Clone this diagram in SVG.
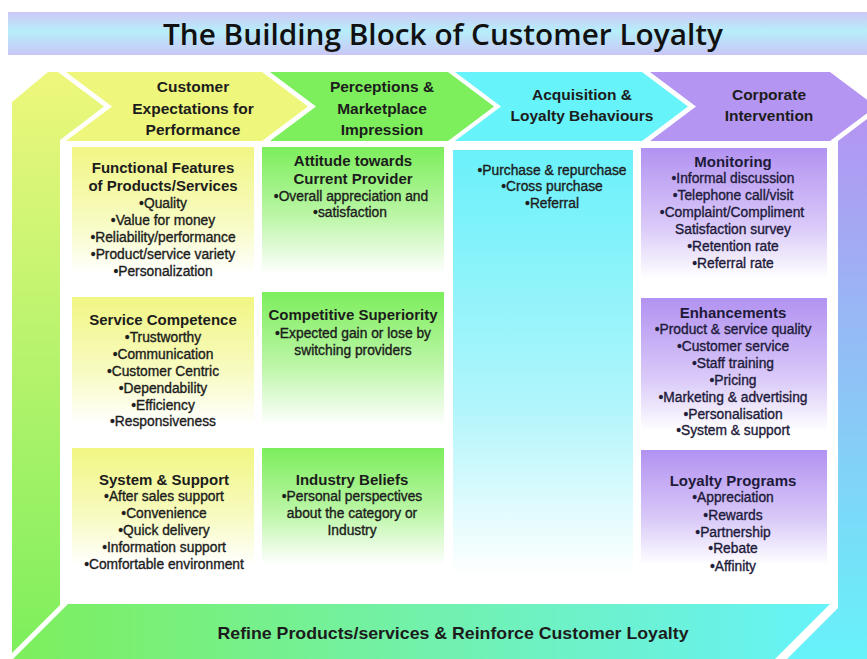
<svg xmlns="http://www.w3.org/2000/svg" width="867" height="659" viewBox="0 0 867 659">
<defs>
<linearGradient id="gTitle" x1="0" y1="0" x2="0" y2="1">
<stop offset="0" stop-color="#cdc8f6"/><stop offset="0.45" stop-color="#b6eefa"/><stop offset="1" stop-color="#cac6f6"/>
</linearGradient>
<linearGradient id="gLeft" x1="0" y1="0" x2="0" y2="1">
<stop offset="0" stop-color="#eef77c"/><stop offset="1" stop-color="#7def5c"/>
</linearGradient>
<linearGradient id="gRight" x1="0" y1="0" x2="0" y2="1">
<stop offset="0" stop-color="#b495f2"/><stop offset="1" stop-color="#66f3fa"/>
</linearGradient>
<linearGradient id="gBottom" x1="0" y1="0" x2="1" y2="0">
<stop offset="0" stop-color="#7def5c"/><stop offset="1" stop-color="#66f3fa"/>
</linearGradient>
<linearGradient id="gY" x1="0" y1="0" x2="0" y2="1">
<stop offset="0" stop-color="#f1f684"/><stop offset="0.55" stop-color="#f8fbc4"/><stop offset="0.9" stop-color="#ffffff"/>
</linearGradient>
<linearGradient id="gG" x1="0" y1="0" x2="0" y2="1">
<stop offset="0" stop-color="#7cee5c"/><stop offset="0.5" stop-color="#bdf6a8"/><stop offset="0.9" stop-color="#ffffff"/>
</linearGradient>
<linearGradient id="gC" x1="0" y1="0" x2="0" y2="1">
<stop offset="0" stop-color="#6af1fa"/><stop offset="0.6" stop-color="#b0f5fb"/><stop offset="1" stop-color="#ffffff"/>
</linearGradient>
<linearGradient id="gP" x1="0" y1="0" x2="0" y2="1">
<stop offset="0" stop-color="#b292f1"/><stop offset="0.55" stop-color="#d9c9f8"/><stop offset="0.92" stop-color="#ffffff"/>
</linearGradient>
<style>
.hd{font-family:"Liberation Sans",Arial,sans-serif;font-weight:bold;font-size:15.5px;fill:#1c1c1c;text-anchor:middle}
.bt{font-family:"Liberation Sans",Arial,sans-serif;font-weight:bold;font-size:15px;fill:#1c1c1c;text-anchor:middle}
.it{font-family:"Liberation Sans",Arial,sans-serif;font-size:13.8px;fill:#1c1c1c;stroke:#1c1c1c;stroke-width:0.35;text-anchor:middle}
.pt{fill:#1e1a3a}
.ps{fill:#1e1a3a;stroke:#1e1a3a}
</style>
</defs>
<rect width="867" height="659" fill="#ffffff"/>

<g id="title">
<rect x="8" y="12" width="859" height="43" fill="url(#gTitle)"/>
<text x="443" y="45" font-family="'Open Sans','Liberation Sans',Arial,sans-serif" font-weight="600" font-size="29" fill="#111" text-anchor="middle" textLength="560" lengthAdjust="spacingAndGlyphs">The Building Block of Customer Loyalty</text>
</g>

<g id="connectors">
<polygon id="flow-left" points="12,102 48,72 58,72 104,106.5 60,140 60,605 12,653" fill="url(#gLeft)"/>
<polygon id="flow-right" points="838,141 867,119 867,659 787,659 838,608" fill="url(#gRight)"/>
</g>

<g id="stage-expectations">
<polygon points="66,72 262,72 308,106.5 262,141 66,141 112,106.5" fill="#eef77c"/>
<text class="hd"><tspan x="193" y="92">Customer</tspan><tspan x="193" y="114">Expectations for</tspan><tspan x="193" y="135">Performance</tspan></text>
</g>
<g id="stage-perceptions">
<polygon points="270,72 448,72 494,106.5 448,141 270,141 316,106.5" fill="#7def5c"/>
<text class="hd"><tspan x="382" y="92">Perceptions &amp;</tspan><tspan x="382" y="114">Marketplace</tspan><tspan x="382" y="135">Impression</tspan></text>
</g>
<g id="stage-acquisition">
<polygon points="455,72 642,72 688,106.5 642,141 455,141 501,106.5" fill="#66f3fa"/>
<text class="hd"><tspan x="582" y="100">Acquisition &amp;</tspan><tspan x="582" y="121">Loyalty Behaviours</tspan></text>
</g>
<g id="stage-corporate">
<polygon points="650,72 830,72 876,106.5 830,141 650,141 696,106.5" fill="#b495f2"/>
<text class="hd"><tspan x="769" y="100">Corporate</tspan><tspan x="769" y="121">Intervention</tspan></text>
</g>

<g id="box-functional">
<rect x="72" y="147" width="182" height="141" fill="url(#gY)"/>
<text class="bt"><tspan x="163" y="173">Functional Features</tspan><tspan x="163" y="191">of Products/Services</tspan></text>
<text class="it"><tspan x="163" y="208">•Quality</tspan><tspan x="163" y="225">•Value for money</tspan><tspan x="163" y="242">•Reliability/performance</tspan><tspan x="163" y="259">•Product/service variety</tspan><tspan x="163" y="276">•Personalization</tspan></text>
</g>
<g id="box-service">
<rect x="72" y="297" width="182" height="141" fill="url(#gY)"/>
<text class="bt"><tspan x="163" y="325">Service Competence</tspan></text>
<text class="it"><tspan x="163" y="342">•Trustworthy</tspan><tspan x="163" y="359">•Communication</tspan><tspan x="163" y="376">•Customer Centric</tspan><tspan x="163" y="393">•Dependability</tspan><tspan x="163" y="410">•Efficiency</tspan><tspan x="163" y="426">•Responsiveness</tspan></text>
</g>
<g id="box-system">
<rect x="72" y="448" width="182" height="130" fill="url(#gY)"/>
<text class="bt"><tspan x="164" y="485">System &amp; Support</tspan></text>
<text class="it"><tspan x="164" y="501">•After sales support</tspan><tspan x="164" y="518">•Convenience</tspan><tspan x="164" y="535">•Quick delivery</tspan><tspan x="164" y="552">•Information support</tspan><tspan x="164" y="569">•Comfortable environment</tspan></text>
</g>

<g id="box-attitude">
<rect x="262" y="147" width="182" height="141" fill="url(#gG)"/>
<text class="bt"><tspan x="353" y="166">Attitude towards</tspan><tspan x="353" y="184">Current Provider</tspan></text>
<text class="it"><tspan x="351" y="201">•Overall appreciation and</tspan><tspan x="350" y="217">•satisfaction</tspan></text>
</g>
<g id="box-competitive">
<rect x="262" y="292" width="182" height="148" fill="url(#gG)"/>
<text class="bt"><tspan x="353" y="320">Competitive Superiority</tspan></text>
<text class="it"><tspan x="353" y="338">•Expected gain or lose by</tspan><tspan x="353" y="355">switching providers</tspan></text>
</g>
<g id="box-industry">
<rect x="262" y="448" width="182" height="130" fill="url(#gG)"/>
<text class="bt"><tspan x="352" y="485">Industry Beliefs</tspan></text>
<text class="it"><tspan x="352" y="501">•Personal perspectives</tspan><tspan x="352" y="518">about the category or</tspan><tspan x="352" y="535">Industry</tspan></text>
</g>

<g id="box-behaviours">
<rect x="453" y="150" width="180" height="425" fill="url(#gC)"/>
<text class="it"><tspan x="552" y="175">•Purchase &amp; repurchase</tspan><tspan x="552" y="191">•Cross purchase</tspan><tspan x="552" y="208">•Referral</tspan></text>
</g>

<g id="box-monitoring">
<rect x="641" y="148" width="186" height="142" fill="url(#gP)"/>
<text class="bt pt"><tspan x="733" y="167">Monitoring</tspan></text>
<text class="it ps"><tspan x="733" y="183">•Informal discussion</tspan><tspan x="733" y="200">•Telephone call/visit</tspan><tspan x="732" y="217">•Complaint/Compliment</tspan><tspan x="733" y="234">Satisfaction survey</tspan><tspan x="733" y="251">•Retention rate</tspan><tspan x="733" y="268">•Referral rate</tspan></text>
</g>
<g id="box-enhancements">
<rect x="641" y="298" width="186" height="145" fill="url(#gP)"/>
<text class="bt pt"><tspan x="733" y="318">Enhancements</tspan></text>
<text class="it ps"><tspan x="733" y="334">•Product &amp; service quality</tspan><tspan x="733" y="351">•Customer service</tspan><tspan x="733" y="368">•Staff training</tspan><tspan x="733" y="385">•Pricing</tspan><tspan x="733" y="402">•Marketing &amp; advertising</tspan><tspan x="733" y="419">•Personalisation</tspan><tspan x="733" y="435">•System &amp; support</tspan></text>
</g>
<g id="box-loyalty">
<rect x="641" y="450" width="186" height="125" fill="url(#gP)"/>
<text class="bt pt"><tspan x="733" y="486">Loyalty Programs</tspan></text>
<text class="it ps"><tspan x="733" y="502">•Appreciation</tspan><tspan x="733" y="520">•Rewards</tspan><tspan x="733" y="537">•Partnership</tspan><tspan x="733" y="553">•Rebate</tspan><tspan x="733" y="571">•Affinity</tspan></text>
</g>

<g id="refine">
<polygon points="68,604 830,604 775,659 13,659" fill="url(#gBottom)"/>
<text x="453" y="639" font-family="'Liberation Sans',Arial,sans-serif" font-weight="bold" font-size="17" fill="#1c1c1c" text-anchor="middle" textLength="471" lengthAdjust="spacingAndGlyphs">Refine Products/services &amp; Reinforce Customer Loyalty</text>
</g>
</svg>
